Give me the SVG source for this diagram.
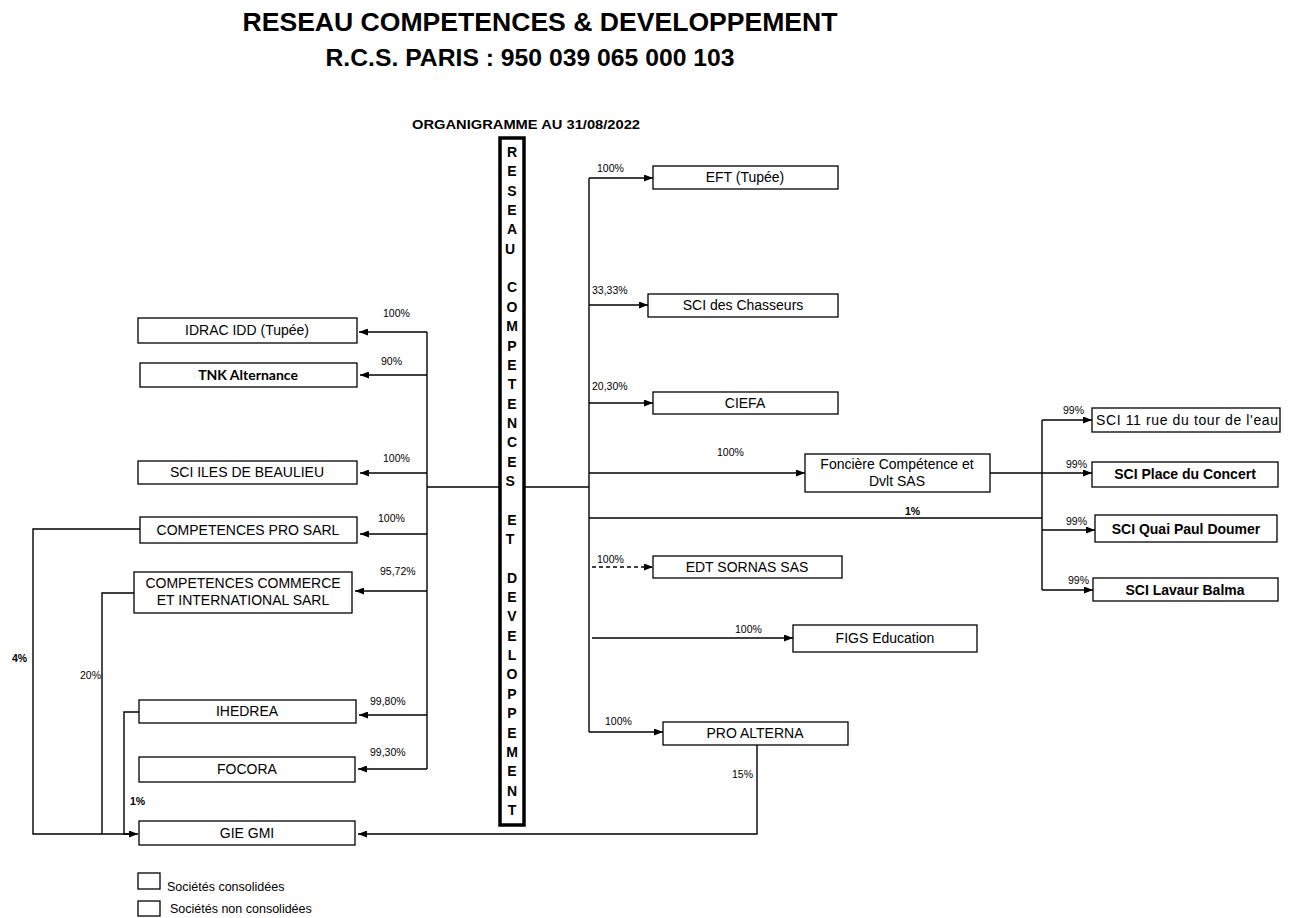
<svg xmlns="http://www.w3.org/2000/svg" width="1290" height="918" viewBox="0 0 1290 918">
<defs>
<marker id="ah" markerWidth="9" markerHeight="7" refX="9" refY="3.5" orient="auto" markerUnits="userSpaceOnUse">
<path d="M0,0 L9,3.5 L0,7 z" fill="#000"/>
</marker>
<style>
text{font-family:"Liberation Sans",Arial,sans-serif;fill:#000}
.box{fill:#fff;stroke:#000;stroke-width:1.3}
.lbl{font-size:14px;text-anchor:middle}
.b{font-weight:bold}
.pct{font-size:10.5px}
.ln{fill:none;stroke:#000;stroke-width:1.4}
.ar{fill:none;stroke:#000;stroke-width:1.4;marker-end:url(#ah)}
.dash{stroke-dasharray:4,3}
.vt{font-size:14px;font-weight:bold;text-anchor:middle}
</style>
</defs>
<rect width="1290" height="918" fill="#fff"/>

<g id="title">
<text x="540" y="31" font-size="26" font-weight="bold" text-anchor="middle" textLength="595" lengthAdjust="spacingAndGlyphs">RESEAU COMPETENCES &amp; DEVELOPPEMENT</text>
<text x="530" y="66" font-size="23" font-weight="bold" text-anchor="middle" textLength="409" lengthAdjust="spacingAndGlyphs">R.C.S. PARIS : 950 039 065 000 103</text>
<text x="526" y="129" font-size="12" font-weight="bold" text-anchor="middle" textLength="228" lengthAdjust="spacingAndGlyphs">ORGANIGRAMME AU 31/08/2022</text>
</g>

<g id="connectors">
<path class="ln" d="M427,487 H499"/>
<path class="ln" d="M525,487 H589"/>
<path class="ln" d="M427,332 V769"/>
<path class="ar" d="M427,332 H359"/>
<path class="ar" d="M427,375 H360"/>
<path class="ar" d="M427,473 H360"/>
<path class="ar" d="M427,534 H360"/>
<path class="ar" d="M427,591 H355"/>
<path class="ar" d="M427,715 H359"/>
<path class="ar" d="M427,769 H358"/>
<path class="ln" d="M140,529 H33 V834 H130"/>
<path class="ln" d="M134,593 H102 V834"/>
<path class="ar" d="M139,712 H124 V834 H138"/>
<path class="ar" d="M757,745 V834 H358"/>
<path class="ln" d="M589,178 V732"/>
<path class="ar" d="M589,178 H653"/>
<path class="ar" d="M589,305 H648"/>
<path class="ar" d="M589,403 H653"/>
<path class="ar" d="M589,473 H805"/>
<path class="ln" d="M589,518 H1042"/>
<path class="ar dash" d="M592,567 H653"/>
<path class="ar" d="M592,638 H793"/>
<path class="ar" d="M589,732 H663"/>
<path class="ln" d="M990,473 H1042"/>
<path class="ln" d="M1042,420 V590"/>
<path class="ar" d="M1042,420 H1092"/>
<path class="ar" d="M1042,473 H1092"/>
<path class="ar" d="M1042,530 H1095"/>
<path class="ar" d="M1042,590 H1093"/>
<text class="pct" x="383" y="317">100%</text>
<text class="pct" x="381" y="365">90%</text>
<text class="pct" x="383" y="462">100%</text>
<text class="pct" x="378" y="522">100%</text>
<text class="pct" x="380" y="575">95,72%</text>
<text class="pct" x="370" y="705">99,80%</text>
<text class="pct" x="370" y="756">99,30%</text>
<text class="pct b" x="12" y="662">4%</text>
<text class="pct" x="80" y="679">20%</text>
<text class="pct b" x="130" y="805">1%</text>
<text class="pct" x="732" y="778">15%</text>
<text class="pct" x="597" y="172">100%</text>
<text class="pct" x="592" y="294">33,33%</text>
<text class="pct" x="592" y="390">20,30%</text>
<text class="pct" x="717" y="456">100%</text>
<text class="pct b" x="905" y="515">1%</text>
<text class="pct" x="597" y="563">100%</text>
<text class="pct" x="735" y="633">100%</text>
<text class="pct" x="605" y="725">100%</text>
<text class="pct" x="1063" y="414">99%</text>
<text class="pct" x="1066" y="468">99%</text>
<text class="pct" x="1066" y="525">99%</text>
<text class="pct" x="1068" y="584">99%</text>
</g>

<g id="n-rcd">
<rect x="500" y="138" width="24" height="687" fill="#fff" stroke="#000" stroke-width="3.5"/>
<text class="vt">
<tspan x="512" y="157">R</tspan><tspan x="512" y="176.35">E</tspan><tspan x="512" y="195.7">S</tspan><tspan x="512" y="215.05">E</tspan><tspan x="512" y="234.4">A</tspan><tspan x="512" y="253.75">U</tspan>
<tspan x="512" y="292.45">C</tspan><tspan x="512" y="311.8">O</tspan><tspan x="512" y="331.15">M</tspan><tspan x="512" y="350.5">P</tspan><tspan x="512" y="369.85">E</tspan><tspan x="512" y="389.2">T</tspan><tspan x="512" y="408.55">E</tspan><tspan x="512" y="427.9">N</tspan><tspan x="512" y="447.25">C</tspan><tspan x="512" y="466.6">E</tspan><tspan x="512" y="485.95">S</tspan>
<tspan x="512" y="524.65">E</tspan><tspan x="512" y="544">T</tspan>
<tspan x="512" y="582.7">D</tspan><tspan x="512" y="602.05">E</tspan><tspan x="512" y="621.4">V</tspan><tspan x="512" y="640.75">E</tspan><tspan x="512" y="660.1">L</tspan><tspan x="512" y="679.45">O</tspan><tspan x="512" y="698.8">P</tspan><tspan x="512" y="718.15">P</tspan><tspan x="512" y="737.5">E</tspan><tspan x="512" y="756.85">M</tspan><tspan x="512" y="776.2">E</tspan><tspan x="512" y="795.55">N</tspan><tspan x="512" y="814.9">T</tspan>
</text>
</g>

<g id="n-idrac"><rect class="box" x="138" y="318" width="219" height="25"/><text class="lbl" x="247" y="335">IDRAC IDD (Tupée)</text></g>
<g id="n-tnk"><rect class="box" x="140" y="363" width="217" height="24"/><text class="lbl b" x="248" y="380" style="font-family:Lato,'Liberation Sans',sans-serif">TNK Alternance</text></g>
<g id="n-sciles"><rect class="box" x="138" y="461" width="219" height="23"/><text class="lbl" x="247" y="477">SCI ILES DE BEAULIEU</text></g>
<g id="n-comppro"><rect class="box" x="140" y="517" width="217" height="26"/><text class="lbl" x="248" y="535">COMPETENCES  PRO SARL</text></g>
<g id="n-compcom"><rect class="box" x="134" y="572" width="218" height="41"/><text class="lbl" x="243" y="588">COMPETENCES  COMMERCE</text><text class="lbl" x="243" y="605">ET INTERNATIONAL  SARL</text></g>
<g id="n-ihedrea"><rect class="box" x="139" y="700" width="217" height="23"/><text class="lbl" x="247" y="716">IHEDREA</text></g>
<g id="n-focora"><rect class="box" x="139" y="757" width="216" height="25"/><text class="lbl" x="247" y="774">FOCORA</text></g>
<g id="n-gie"><rect class="box" x="139" y="821" width="216" height="24"/><text class="lbl" x="247" y="838">GIE GMI</text></g>

<g id="n-eft"><rect class="box" x="653" y="166" width="185" height="23"/><text class="lbl" x="745" y="182">EFT (Tupée)</text></g>
<g id="n-chasseurs"><rect class="box" x="648" y="294" width="190" height="23"/><text class="lbl" x="743" y="310">SCI des Chasseurs</text></g>
<g id="n-ciefa"><rect class="box" x="653" y="392" width="185" height="22"/><text class="lbl" x="745" y="408">CIEFA</text></g>
<g id="n-fonciere"><rect class="box" x="805" y="454" width="185" height="38"/><text class="lbl" x="897" y="469">Foncière Compétence  et</text><text class="lbl" x="897" y="486">Dvlt SAS</text></g>
<g id="n-edt"><rect class="box" x="653" y="556" width="189" height="22"/><text class="lbl" x="747" y="572">EDT SORNAS  SAS</text></g>
<g id="n-figs"><rect class="box" x="793" y="625" width="184" height="27"/><text class="lbl" x="885" y="643">FIGS Education</text></g>
<g id="n-proalt"><rect class="box" x="663" y="722" width="185" height="23"/><text class="lbl" x="755" y="738">PRO ALTERNA</text></g>

<g id="n-sci11"><rect class="box" x="1092" y="408" width="188" height="24"/><text x="1096" y="425" font-size="14" textLength="182" lengthAdjust="spacing">SCI 11 rue du tour de l'eau</text></g>
<g id="n-sciplace"><rect class="box" x="1092" y="462" width="186" height="25"/><text class="lbl b" x="1185" y="479" font-size="13">SCI Place du Concert</text></g>
<g id="n-sciquai"><rect class="box" x="1095" y="515" width="182" height="27"/><text class="lbl b" x="1186" y="534" font-size="13">SCI Quai Paul Doumer</text></g>
<g id="n-scilavaur"><rect class="box" x="1093" y="578" width="185" height="23"/><text class="lbl b" x="1185" y="595" font-size="13">SCI Lavaur Balma</text></g>

<g id="legend">
<rect class="box" x="138" y="873" width="22" height="16"/>
<text x="167" y="891" font-size="12.5">Sociétés consolidées</text>
<rect class="box" x="138" y="901" width="22" height="15"/>
<text x="170" y="913" font-size="12.5">Sociétés non consolidées</text>
</g>
</svg>
